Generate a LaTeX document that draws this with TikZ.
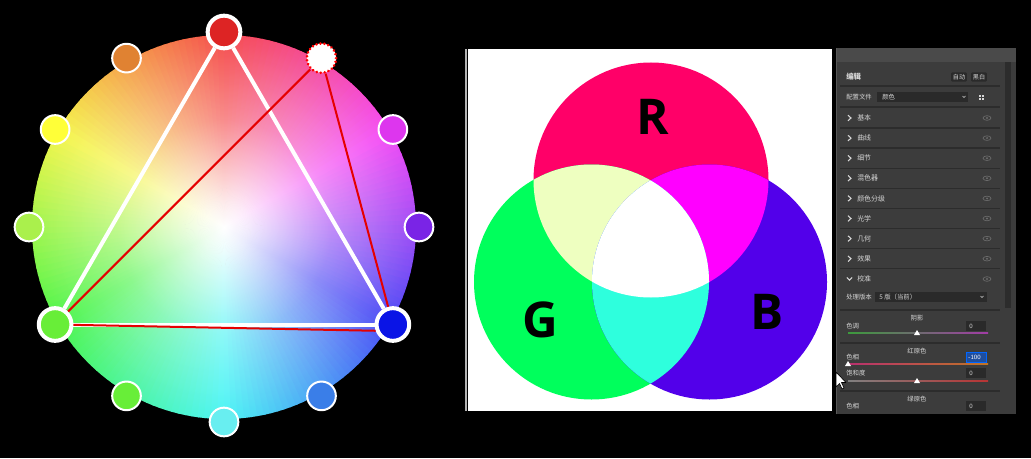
\documentclass[tikz,border=0pt]{standalone}
\usepackage{fontspec}
\usepackage{xcolor}
\usepackage{tikz}
\usetikzlibrary{positioning,fadings,shapes.geometric}
\newfontfamily\cjk{Noto Sans CJK SC}
\newfontfamily\rgbfont{Open Sans}
% wheel dots
\definecolor{wred}{HTML}{DD2424}
\definecolor{worange}{HTML}{E08232}
\definecolor{wyellow}{HTML}{FFFF38}
\definecolor{wlime}{HTML}{AAF04C}
\definecolor{wgreen}{HTML}{68EE38}
\definecolor{wcyan}{HTML}{68EEF0}
\definecolor{wazure}{HTML}{3A7EE8}
\definecolor{wblue}{HTML}{0A14E6}
\definecolor{wviolet}{HTML}{7A24E6}
\definecolor{wmagenta}{HTML}{DD36EE}
% additive mix
\definecolor{mixR}{HTML}{FF0068}
\definecolor{mixG}{HTML}{00FF5C}
\definecolor{mixB}{HTML}{5200EA}
\definecolor{mixRG}{HTML}{EEFFC0}
\definecolor{mixRB}{HTML}{FF00FF}
\definecolor{mixGB}{HTML}{2EFFDD}
% panel
\definecolor{panelbg}{HTML}{3C3C3C}
\definecolor{paneltop}{HTML}{4A4A4A}
\definecolor{panelline}{HTML}{2C2C2C}
\definecolor{paneltext}{HTML}{D6D6D6}
\definecolor{fieldbg}{HTML}{2A2A2A}
\definecolor{selblue}{HTML}{1F4E9E}
\definecolor{sgreen}{HTML}{3C9A3C}
\definecolor{spurple}{HTML}{A23CA6}
\definecolor{spink}{HTML}{B8306E}
\definecolor{sorange}{HTML}{C07424}
\definecolor{sred}{HTML}{B83434}

\pgfdeclareradialshading{wheelshading}{\pgfpoint{0bp}{0bp}}{%
  color(0bp)=(white); color(3bp)=(white!92!black); color(14bp)=(white!50!black);
  color(28bp)=(white!15!black); color(40bp)=(black); color(50bp)=(black)}
\pgfdeclarefading{wheelfade}{\pgfuseshading{wheelshading}}

\tikzset{
  hue dot/.style={circle, draw=white, line width=1.5pt, minimum size=21.5pt, inner sep=0pt},
  key dot/.style={circle, draw=white, line width=3pt, minimum size=24.5pt, inner sep=0pt},
  free dot/.style={circle, fill=white, draw=red, line width=2.2pt, line cap=round,
    dash pattern=on 0.01pt off 3pt, minimum size=22pt, inner sep=0pt},
  tri line/.style={white, line width=3pt},
  pair line/.style={red!90!black, line width=1.5pt},
  rgb label/.style={font=\rgbfont\bfseries\fontsize{37}{37}\selectfont, inner sep=0pt},
  ui text/.style={text=paneltext, font=\cjk\fontsize{5.2}{6}\selectfont, inner sep=0pt},
  ui button/.style={fill=fieldbg, text=paneltext, font=\cjk\fontsize{4.6}{5}\selectfont,
    inner sep=1.3pt, rounded corners=0.8pt},
  ui field/.style={fill=fieldbg, inner sep=0pt, minimum height=7.5pt},
  chev/.style={paneltext, line width=0.8pt},
  sep/.style={panelline, line width=1pt},
  eye/.style={gray!70!panelbg, line width=0.5pt},
}

\begin{document}
\begin{tikzpicture}[x=0.75pt, y=0.75pt]
    \fill[black] (0,0) rectangle (1031,458);
    % Colour wheel
    \begin{scope}[shift={(224,231)}]
        \foreach \a in {0,2,...,358} {
            \pgfmathsetmacro{\h}{mod(\a+1-90+360,360)/360}
            \definecolor{wedge}{hsb}{\h,0.9,0.95}
            \fill[wedge] (0,0) -- (\a:192) arc (\a:\a+2.6:192) -- cycle;
        }
        \fill[white, path fading=wheelfade] (0,0) circle (192);
        % dots round the wheel
        \foreach \ang/\col/\nm in {120/worange/orange,150/wyellow/yellow,180/wlime/lime,
                                   240/wgreen/green2,270/wcyan/cyan,300/wazure/azure,
                                   0/wviolet/violet,30/wmagenta/magenta} {
            \node[hue dot, fill=\col] (\nm) at (\ang:195) {};
        }
        \node[key dot, fill=wred] (red) at (90:195) {};
        \node[key dot, fill=wgreen] (green) at (210:195) {};
        \node[key dot, fill=wblue] (blue) at (330:195) {};
        \node[free dot] (rose) at (60:195) {};
    \end{scope}
    % Triad lines
    \draw[tri line] (red) -- (green);
    \draw[tri line] (green) -- (blue);
    \draw[tri line] (blue) -- (red);
    \draw[pair line] (rose) -- (green);
    \draw[pair line] (rose) -- (blue);
    \draw[pair line] (green) -- (blue.200);

    % RGB mix
    \fill[white] (468,47) rectangle (832,409);
    \draw[gray!60, line width=1pt] (466,47) -- (466,409);
    \coordinate (rc) at (651,278);
    \coordinate (gc) at (591.5,176);
    \coordinate (bc) at (709.5,176);
    \fill[mixR] (rc) circle (117.5);
    \fill[mixG] (gc) circle (117.5);
    \fill[mixB] (bc) circle (117.5);
    \begin{scope}
        \clip (rc) circle (117.5);
        \fill[mixRG] (gc) circle (117.5);
        \fill[mixRB] (bc) circle (117.5);
    \end{scope}
    \begin{scope}
        \clip (gc) circle (117.5);
        \fill[mixGB] (bc) circle (117.5);
        \clip (rc) circle (117.5);
        \fill[white] (bc) circle (117.5);
    \end{scope}
    \node[rgb label] (lblR) at (653,341) {R};
    \node[rgb label] (lblG) at (540,138) {G};
    \node[rgb label] (lblB) at (767,146) {B};

    % Panel
    \fill[panelbg] (836,44) rectangle (1016,410);
    \fill[paneltop] (836,396) rectangle (1016,410);
    \fill[panelline] (1005,150) rectangle (1011,396);
    \draw[gray!40!panelbg, line width=1pt] (836.5,44) -- (836.5,410);
    % header
    \node[ui text, anchor=west, font=\cjk\bfseries\fontsize{5.6}{6}\selectfont] (hdr) at (846,381) {编辑};
    \node[ui button] (auto) at (959,381) {自动};
    \node[ui button] (bw) at (979,381) {黑白};
    \draw[sep] (840,372) -- (1000,372);
    % profile
    \node[ui text, anchor=west, font=\cjk\fontsize{4.8}{5}\selectfont] (proflbl) at (846,361) {配置文件};
    \node[ui field, minimum width=68pt, anchor=west] (prof) at (877,361) {};
    \node[ui text, anchor=west, font=\cjk\fontsize{4.8}{5}\selectfont] (profval) at (882,361) {颜色};
    \draw[paneltext, line width=0.5pt] (962.5,362) -- (964,360.5) -- (965.5,362);
    \foreach \dx/\dy in {0/0,3/0,0/3,3/3} {
        \fill[paneltext] (979+\dx,358+\dy) rectangle ++(2,2);
    }
    \draw[sep] (840,351) -- (1000,351);
    % sections
    \foreach \lbl [count=\i] in {基本,曲线,细节,混色器,颜色分级,光学,几何,效果} {
        \pgfmathsetmacro{\ry}{340-20.1*(\i-1)}
        \node[ui text, anchor=west] (row\i) at (857,\ry) {\lbl};
        \draw[chev] (848,\ry+2.8) -- (851,\ry) -- (848,\ry-2.8);
        \draw[eye] (987,\ry) ellipse (4 and 2.3);
        \fill[gray!70!panelbg] (987,\ry) circle (1.1);
        \draw[sep] (840,\ry-10) -- (1000,\ry-10);
    }
    \node[ui text, anchor=west] (calib) at (857,179) {校准};
    \draw[chev] (846.8,180.5) -- (849.5,177.8) -- (852.2,180.5);
    \draw[eye] (987,179) ellipse (4 and 2.3);
    \fill[gray!70!panelbg] (987,179) circle (1.1);
    % process version
    \node[ui text, anchor=west, font=\cjk\fontsize{4.8}{5}\selectfont] (proclbl) at (846,161) {处理版本};
    \node[ui field, minimum width=84pt, anchor=west] (proc) at (875,161) {};
    \node[ui text, anchor=west, font=\cjk\fontsize{4.8}{5}\selectfont] (procval) at (879,161) {5 版（当前）};
    \draw[paneltext, line width=0.5pt] (980.5,162) -- (982,160.5) -- (983.5,162);
    \draw[sep] (840,148) -- (1000,148);
    % shadows tint
    \node[ui text, font=\cjk\fontsize{4.8}{5}\selectfont] (shadow) at (917,140) {阴影};
    \node[ui text, anchor=west, font=\cjk\fontsize{4.8}{5}\selectfont] (tint) at (846,132) {色调};
    \node[ui field, minimum width=15pt, anchor=west] (tintval) at (966,132) {};
    \node[ui text, anchor=west, font=\sffamily\fontsize{4.8}{5}\selectfont] (tintnum) at (969,132) {0};
    \shade[left color=sgreen, middle color=gray, right color=spurple] (848,124.3) rectangle (988,125.7);
    \fill[white] (914,123) -- (920,123) -- (917,128) -- cycle;
    \draw[sep] (840,115) -- (1000,115);
    % red primary
    \node[ui text, font=\cjk\fontsize{4.8}{5}\selectfont] (redprim) at (917,107) {红原色};
    \node[ui text, anchor=west, font=\cjk\fontsize{4.8}{5}\selectfont] (redhue) at (846,101) {色相};
    \node[ui field, fill=selblue, draw=blue!60!cyan, line width=0.6pt, minimum width=15pt, anchor=west] (redhueval) at (966,101) {};
    \node[ui text, text=white, anchor=west, font=\sffamily\fontsize{4.8}{5}\selectfont] (redhuenum) at (968,101) {-100};
    \shade[left color=spink, right color=sorange] (848,93.3) rectangle (988,94.7);
    \fill[white] (845,92) -- (851,92) -- (848,97) -- cycle;
    \node[ui text, anchor=west, font=\cjk\fontsize{4.8}{5}\selectfont] (redsat) at (846,85) {饱和度};
    \node[ui field, minimum width=15pt, anchor=west] (redsatval) at (966,85) {};
    \node[ui text, anchor=west, font=\sffamily\fontsize{4.8}{5}\selectfont] (redsatnum) at (969,85) {0};
    \shade[left color=gray, right color=sred] (848,76.3) rectangle (988,77.7);
    \fill[white] (914,75) -- (920,75) -- (917,80) -- cycle;
    \draw[sep] (840,67) -- (1000,67);
    % green primary
    \node[ui text, font=\cjk\fontsize{4.8}{5}\selectfont] (greenprim) at (917,59) {绿原色};
    \node[ui text, anchor=west, font=\cjk\fontsize{4.8}{5}\selectfont] (greenhue) at (846,52) {色相};
    \node[ui field, minimum width=15pt, anchor=west] (greenhueval) at (966,52) {};
    \node[ui text, anchor=west, font=\sffamily\fontsize{4.8}{5}\selectfont] (greenhuenum) at (969,52) {0};
    % cursor
    \filldraw[fill=white, draw=black, line width=0.5pt, line join=round]
        (836,86) -- (836,71) -- (839.5,74.5) -- (842,69) -- (844,70) -- (841.5,75.5) -- (846,75.5) -- cycle;
\end{tikzpicture}
\end{document}
